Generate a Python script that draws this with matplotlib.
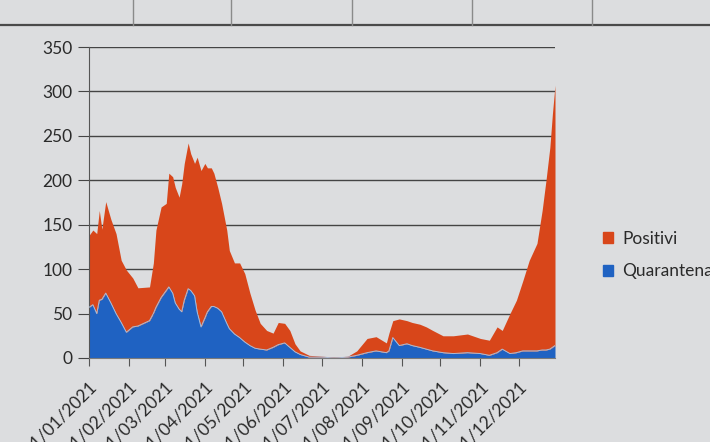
import numpy as np
import pandas as pd
import matplotlib
matplotlib.use('Agg')
import matplotlib.pyplot as plt
import matplotlib.dates as mdates
from matplotlib.lines import Line2D
from matplotlib.patches import Patch

# === Dati (2021) ===
giorni = ['01/01', '04/01', '07/01', '09/01', '11/01', '14/01', '18/01', '22/01', '26/01', '30/01',
          '04/02', '08/02', '17/02', '20/02', '22/02', '26/02',
          '02/03', '04/03', '07/03', '09/03', '12/03', '14/03', '16/03', '19/03', '21/03', '24/03',
          '26/03', '29/03',
          '01/04', '03/04', '06/04', '08/04', '11/04', '14/04', '18/04', '20/04', '24/04', '28/04',
          '02/05', '06/05', '10/05', '14/05', '19/05', '24/05', '28/05',
          '02/06', '06/06', '10/06', '14/06', '21/06',
          '01/07', '11/07', '21/07', '28/07',
          '05/08', '12/08', '20/08', '22/08', '25/08', '30/08',
          '05/09', '09/09', '15/09', '20/09', '25/09',
          '03/10', '11/10', '22/10',
          '01/11', '08/11', '14/11', '18/11', '24/11', '29/11',
          '04/12', '09/12', '15/12', '19/12', '22/12', '25/12', '27/12', '29/12']

quarantena = [57, 60, 50, 65, 66, 73, 62, 50, 40, 29,
              35, 36, 42, 50, 57, 68,
              76, 80, 73, 62, 55, 52, 65, 78, 76, 70,
              52, 35,
              45, 52, 58, 58, 56, 52, 39, 33, 27, 23,
              18, 14, 11, 10, 9, 12, 15,
              17, 12, 7, 4, 1,
              1, 0, 1, 3,
              6, 8, 6, 8, 23, 14,
              16, 14, 12, 10, 8,
              6, 5, 6,
              5, 3, 6, 10, 5, 6,
              8, 8, 8, 9, 9, 10, 12, 14]

positivi = [81, 84, 90, 101, 79, 103, 94, 90, 70, 70,
            55, 43, 38, 57, 87, 102,
            98, 128, 131, 130, 126, 144, 154, 164, 154, 149,
            174, 176,
            174, 162, 156, 150, 136, 122, 105, 88, 80, 84,
            77, 59, 43, 29, 22, 16, 25,
            22, 19, 9, 4, 2,
            1, 1, 1, 5,
            16, 16, 11, 20, 19, 30,
            26, 26, 26, 25, 23,
            19, 20, 21,
            17, 17, 29, 21, 45, 59,
            79, 102, 121, 157, 191, 227, 263, 293]

date = pd.to_datetime([g + '/2021' for g in giorni], format='%d/%m/%Y')
totale = np.array(quarantena) + np.array(positivi)

arancio = '#d8461a'
blu = '#1f62c2'
sfondo = '#dcdddf'
testo = '#2a2a2a'

plt.rcParams['font.family'] = ['Lato', 'DejaVu Sans']

fig = plt.figure(figsize=(7.1, 4.42), dpi=100)
fig.patch.set_facecolor(sfondo)

# riga di celle del foglio in alto
fig.add_artist(Line2D([0, 1], [1 - 25 / 442] * 2, transform=fig.transFigure, color='#4a4a4a', lw=1.6))
for xc in [133, 231, 352, 472, 592]:
    fig.add_artist(Line2D([xc / 710] * 2, [1 - 25 / 442, 1], transform=fig.transFigure,
                          color='#8a8a8a', lw=1.0))

ax = fig.add_axes([89 / 710, 84 / 442, 466 / 710, 311 / 442])
ax.set_facecolor('none')

ax.fill_between(date, 0, quarantena, color=blu, lw=0, zorder=2)
ax.fill_between(date, quarantena, totale, color=arancio, lw=0, zorder=2)
ax.plot(date, quarantena, color='#a9bcd8', lw=0.7, zorder=3)

ax.set_ylim(0, 350)
ax.set_yticks(np.arange(0, 351, 50))
ax.set_xlim(pd.Timestamp('2021-01-01'), pd.Timestamp('2021-12-29'))
ax.xaxis.set_major_locator(mdates.MonthLocator(bymonthday=1))
ax.xaxis.set_major_formatter(mdates.DateFormatter('%d/%m/%Y'))

ax.yaxis.grid(True, color='#444444', lw=1.0)
ax.set_axisbelow(True)
for s in ['top', 'right']:
    ax.spines[s].set_visible(False)
ax.spines['left'].set_color('#555555')
ax.spines['bottom'].set_color('#7a7a7a')

ax.tick_params(axis='y', length=8, color='#444444', labelsize=12.5, labelcolor=testo, pad=4)
ax.tick_params(axis='x', length=6, color='#555555', labelsize=12.5, labelcolor=testo, pad=9)
for lab in ax.get_xticklabels():
    lab.set_rotation(45)
    lab.set_ha('right')
    lab.set_rotation_mode('anchor')

fig.legend(handles=[Patch(color=arancio, label='Positivi'), Patch(color=blu, label='Quarantena')],
           loc='upper left', bbox_to_anchor=(596 / 710, 1 - 224 / 442), frameon=False,
           handlelength=0.6, handleheight=0.6, handletextpad=0.5, labelspacing=0.95,
           fontsize=12.5, labelcolor=testo, borderaxespad=0)

fig.savefig('out.png', dpi=100, facecolor=sfondo)
